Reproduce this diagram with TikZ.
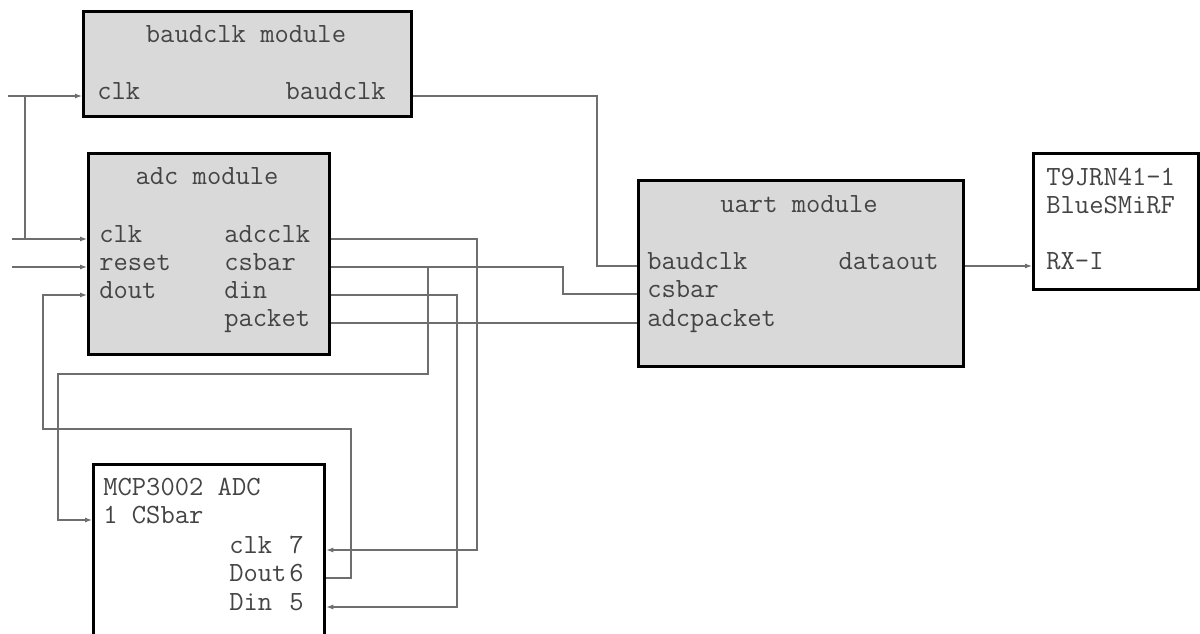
\documentclass[tikz,border=0pt]{standalone}
\usepackage{fontspec}
\usetikzlibrary{arrows.meta}
\definecolor{boxgray}{RGB}{217,217,217}
\definecolor{labelgray}{RGB}{68,68,68}
\definecolor{wiregray}{RGB}{110,110,110}

\begin{document}
\begin{tikzpicture}[x=0.02cm, y=-0.02cm]

    % Define styles
    \tikzstyle{module} = [
        rectangle, draw=black, line width=1.9pt,
        fill=boxgray, anchor=north west, inner sep=0pt
    ]
    \tikzstyle{device} = [module, fill=white]
    \tikzstyle{port} = [
        anchor=mid west, inner sep=0pt, text=labelgray,
        font=\ttfamily\fontsize{15.8}{18}\selectfont
    ]
    \tikzstyle{title} = [port, anchor=mid]
    \tikzstyle{wire} = [draw=wiregray, line width=0.6pt]
    \tikzstyle{arrow} = [wire, -{Latex[length=1.4mm,width=1mm]}]

    \useasboundingbox (0,0) rectangle (1200,634);

    % Boxes
    \node[module, minimum width=6.56cm, minimum height=2.1cm] (baud) at (82,10) {};
    \node[module, minimum width=4.82cm, minimum height=4.02cm] (adc) at (87,152) {};
    \node[module, minimum width=6.5cm, minimum height=3.72cm] (uart) at (637,179) {};
    \node[device, minimum width=3.3cm, minimum height=2.72cm] (smirf) at (1032,152) {};
    \node[device, minimum width=4.62cm, minimum height=3.8cm] (mcp) at (92,463) {};

    % Labels
    \node[title] (baudname) at (246,39) {baudclk module};
    \node[port] (baudclkin) at (97,96) {clk};
    \node[port, anchor=mid east] (baudclkout) at (386,96) {baudclk};

    \node[title] (adcname) at (207,181) {adc module};
    \node[port] (adcclk) at (99,239) {clk};
    \node[port] (adcreset) at (99,267) {reset};
    \node[port] (adcdout) at (99,295) {dout};
    \node[port] (adcadcclk) at (224,239) {adcclk};
    \node[port] (adccsbar) at (224,267) {csbar};
    \node[port] (adcdin) at (224,295) {din};
    \node[port] (adcpacket) at (224,323) {packet};

    \node[title] (uartname) at (799,209) {uart module};
    \node[port] (uartbaud) at (647,266) {baudclk};
    \node[port] (uartcsbar) at (647,294) {csbar};
    \node[port] (uartpacket) at (647,323) {adcpacket};
    \node[port, anchor=mid east] (uartout) at (939,266) {dataout};

    \node[port] (smirfid) at (1046,182) {T9JRN41-1};
    \node[port] (smirfname) at (1046,210) {BlueSMiRF};
    \node[port] (smirfrx) at (1046,266) {RX-I};

    \node[port] (mcpname) at (103,492) {MCP3002 ADC};
    \node[port] (mcpcs) at (103,520) {1 CSbar};
    \node[port] (mcpclk) at (229,550) {clk};
    \node[port] (mcpdout) at (229,578) {Dout};
    \node[port] (mcpdin) at (229,607) {Din};
    \node[port] (mcpclknum) at (289,550) {7};
    \node[port] (mcpdoutnum) at (289,578) {6};
    \node[port] (mcpdinnum) at (289,607) {5};

    % Free ends
    \coordinate (clkin) at (8,96);
    \coordinate (clktap) at (25,96);
    \coordinate (clkin2) at (12,239);
    \coordinate (resetin) at (12,267);
    \coordinate (csfork) at (428,267);

    % Arrows
    \draw[arrow] (clkin) -- (baudclkin.mid -| baud.west);
    \draw[wire] (clktap) -- (clktap |- adcclk.mid);
    \draw[arrow] (clkin2) -- (adcclk.mid -| adc.west);
    \draw[arrow] (resetin) -- (adcreset.mid -| adc.west);
    \draw[arrow] (mcpdout.mid -| mcp.east) -| (351,429)
        -| (43,295) -- (adcdout.mid -| adc.west);
    \draw[arrow] (adcadcclk.mid -| adc.east) -| (477,550)
        |- (mcpclk.mid -| mcp.east);
    \draw[arrow] (adccsbar.mid -| adc.east) -- (csfork) |- (58,374)
        |- (mcpcs.mid -| mcp.west);
    \draw[wire] (csfork) -| (563,294) |- (uartcsbar.mid -| uart.west);
    \draw[arrow] (adcdin.mid -| adc.east) -| (457,607)
        |- (mcpdin.mid -| mcp.east);
    \draw[wire] (adcpacket.mid -| adc.east) -- (uartpacket.mid -| uart.west);
    \draw[wire] (baudclkout.mid -| baud.east) -| (597,266)
        |- (uartbaud.mid -| uart.west);
    \draw[arrow] (uartout.mid -| uart.east) -- (smirfrx.mid -| smirf.west);

\end{tikzpicture}
\end{document}
